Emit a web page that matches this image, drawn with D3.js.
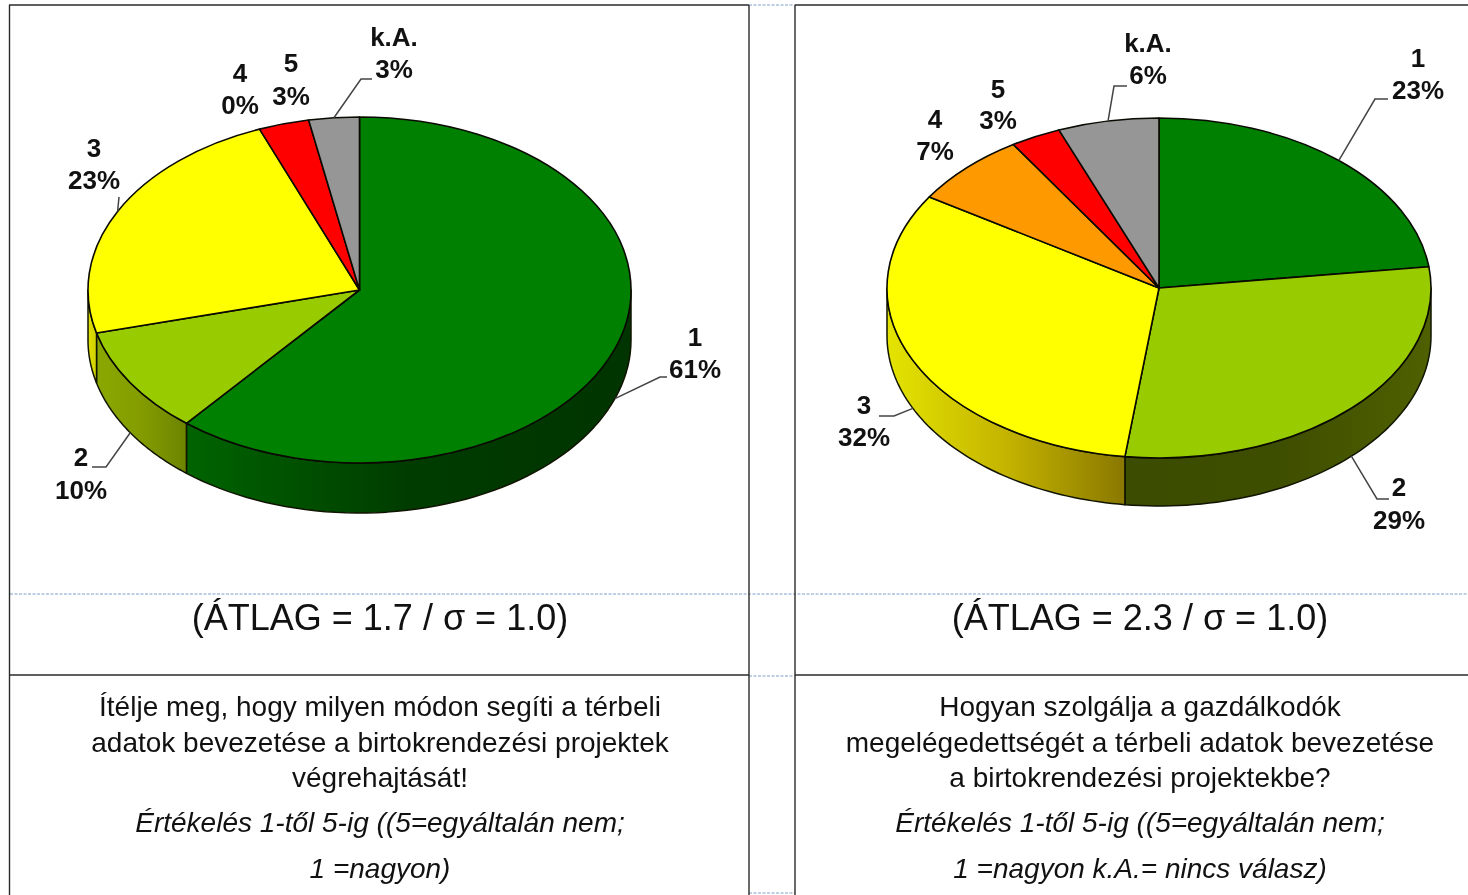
<!DOCTYPE html>
<html>
<head>
<meta charset="utf-8">
<script src="https://cdnjs.cloudflare.com/ajax/libs/d3/7.8.5/d3.min.js"></script>
<style>
html, body { margin: 0; padding: 0; background: #fff; overflow: hidden; }
svg { display: block; }
text { font-family: "Liberation Sans", Arial, sans-serif; fill: #111; }
.pct { font-size: 26px; font-weight: bold; text-anchor: middle; }
.cap { font-size: 36px; text-anchor: middle; }
.q { font-size: 28px; text-anchor: middle; }
.qi { font-size: 28px; font-style: italic; text-anchor: middle; }
</style>
</head>
<body>
<script>
var categories = ["1", "2", "3", "4", "5", "k.A."];
var valuesLeft = [61, 10, 23, 0, 3, 3];
var valuesRight = [23, 29, 32, 7, 3, 6];
var colors = ["#008000", "#99cc00", "#ffff00", "#ff9900", "#ff0000", "#969696"];

var captionLeft = "(ÁTLAG = 1.7 / σ = 1.0)";
var captionRight = "(ÁTLAG = 2.3 / σ = 1.0)";
var questionLeft = ["Ítélje meg, hogy milyen módon segíti a térbeli", "adatok bevezetése a birtokrendezési projektek", "végrehajtását!"];
var questionRight = ["Hogyan szolgálja a gazdálkodók", "megelégedettségét a térbeli adatok bevezetése", "a birtokrendezési projektekbe?"];
var noteLeft = ["Értékelés 1-től 5-ig ((5=egyáltalán nem;", "1 =nagyon)"];
var noteRight = ["Értékelés 1-től 5-ig ((5=egyáltalán nem;", "1 =nagyon k.A.= nincs válasz)"];

// side wall shading, left to right
var wallsLeft = {"1": ["#006400", "#003c00", "#003400"], "2": ["#8aa800", "#849c00", "#6c8400"], "3": ["#e0e000", "#d0d000"]};
var wallsRight = {"2": ["#3c4c00", "#3e4e00", "#4e6000"], "3": ["#e4e400", "#c4b400", "#8a7800"]};

// label centres and leader elbows
var layoutLeft = {
	"1": {x: 695, name: 337, pct: 369, leader: [[660, 377], [667, 377]], wall: true},
	"2": {x: 81, name: 457, pct: 490, leader: [[106, 467], [92, 467]], wall: true},
	"3": {x: 94, name: 148, pct: 180, leader: [[119, 197]]},
	"4": {x: 240, name: 73, pct: 105},
	"5": {x: 291, name: 63, pct: 96},
	"k.A.": {x: 394, name: 37, pct: 69, leader: [[361, 79], [372, 79]]}
};
var layoutRight = {
	"1": {x: 1418, name: 58, pct: 90, leader: [[1375, 99], [1388, 99]]},
	"2": {x: 1399, name: 487, pct: 520, leader: [[1377, 499], [1389, 499]], wall: true},
	"3": {x: 864, name: 405, pct: 437, leader: [[894, 416], [879, 416]], wall: true},
	"4": {x: 935, name: 119, pct: 151},
	"5": {x: 998, name: 89, pct: 120},
	"k.A.": {x: 1148, name: 43, pct: 75, leader: [[1114, 86], [1127, 86]]}
};

var width = 1468, height = 895;

var svg = d3.select("body").append("svg")
	.attr("width", width)
	.attr("height", height)
	.style("filter", "blur(0.45px)");

var defs = svg.append("defs");

// table lines and the dashed page guides behind them
var guides = [[10, 1468, 594], [749, 795, 676], [749, 795, 5], [749, 795, 893]];
svg.selectAll(".guide").data(guides).enter().append("line")
	.attr("class", "guide")
	.attr("x1", function(d){return d[0]})
	.attr("x2", function(d){return d[1]})
	.attr("y1", function(d){return d[2]})
	.attr("y2", function(d){return d[2]})
	.attr("stroke", "#7f9fca")
	.attr("stroke-dasharray", "3,1.5");

var rules = [[9.5, 5, 9.5, 895], [749, 5, 749, 895], [795, 5, 795, 895], [9, 5, 749, 5], [795, 5, 1468, 5], [9, 675, 749, 675], [795, 675, 1468, 675]];
svg.selectAll(".rule").data(rules).enter().append("line")
	.attr("class", "rule")
	.attr("x1", function(d){return d[0]})
	.attr("y1", function(d){return d[1]})
	.attr("x2", function(d){return d[2]})
	.attr("y2", function(d){return d[3]})
	.attr("stroke", "#2a2a2a")
	.attr("stroke-width", 1.4);

function drawPie(id, values, walls, layout, cx, cy, rx, ry, depth){
	var slices = d3.pie().sort(null).value(function(d){return d.value})(
		categories.map(function(c, i){return {name: c, value: values[i], color: colors[i]}})
	);

	var px = function(a){return cx + rx * Math.sin(a)};
	var py = function(a){return cy - ry * Math.cos(a)};
	var line = d3.line();

	var g = svg.append("g").attr("class", "pie-" + id);

	// walls, only the part of each slice facing the viewer
	slices.forEach(function(s, i){
		var a0 = Math.max(s.startAngle, Math.PI / 2), a1 = Math.min(s.endAngle, Math.PI * 3 / 2);
		if (a1 <= a0 || !walls[s.data.name]) return;

		var angles = d3.range(0, 61).map(function(k){return a0 + (a1 - a0) * k / 60});
		var top = angles.map(function(a){return [px(a), py(a)]});
		var bottom = angles.slice().reverse().map(function(a){return [px(a), py(a) + depth]});

		var xs = top.map(function(p){return p[0]});
		var gradId = "wall-" + id + "-" + i;
		var grad = defs.append("linearGradient")
			.attr("id", gradId)
			.attr("gradientUnits", "userSpaceOnUse")
			.attr("x1", d3.min(xs)).attr("x2", d3.max(xs))
			.attr("y1", 0).attr("y2", 0);
		var stops = walls[s.data.name];
		stops.forEach(function(c, k){
			grad.append("stop").attr("offset", k / (stops.length - 1)).attr("stop-color", c);
		});

		g.append("path")
			.attr("d", line(top.concat(bottom)) + "Z")
			.attr("fill", "url(#" + gradId + ")")
			.attr("stroke", "#101400")
			.attr("stroke-width", 1.5)
			.attr("stroke-linejoin", "round");
	});

	// top face
	var arc = d3.arc().innerRadius(0).outerRadius(rx);
	g.append("g")
		.attr("transform", "translate(" + cx + "," + cy + ") scale(1," + (ry / rx) + ")")
		.selectAll("path")
		.data(slices.filter(function(s){return s.data.value > 0})).enter()
		.append("path")
		.attr("d", arc)
		.attr("fill", function(d){return d.data.color})
		.attr("stroke", "#0a0a00")
		.attr("stroke-width", 1.6)
		.attr("stroke-linejoin", "round")
		.attr("vector-effect", "non-scaling-stroke");

	// leaders start at the middle of the slice rim
	slices.forEach(function(s){
		var l = layout[s.data.name];
		if (l.leader){
			var mid = (s.startAngle + s.endAngle) / 2;
			var start = [px(mid), py(mid) + (l.wall ? depth : 0)];
			g.append("path")
				.attr("d", line([start].concat(l.leader)))
				.attr("fill", "none")
				.attr("stroke", "#444")
				.attr("stroke-width", 1.5);
		}
		g.append("text").attr("class", "pct").attr("x", l.x).attr("y", l.name + 9).text(s.data.name);
		g.append("text").attr("class", "pct").attr("x", l.x).attr("y", l.pct + 9).text(s.data.value + "%");
	});
}

drawPie("left", valuesLeft, wallsLeft, layoutLeft, 359.5, 290, 271.5, 173, 50);
drawPie("right", valuesRight, wallsRight, layoutRight, 1159, 288, 272, 170, 48);

function drawText(x, caption, question, note){
	svg.append("text").attr("class", "cap").attr("x", x).attr("y", 630).text(caption);
	var qy = [716, 752, 787], ny = [832, 878];
	question.forEach(function(t, i){
		svg.append("text").attr("class", "q").attr("x", x).attr("y", qy[i]).text(t);
	});
	note.forEach(function(t, i){
		svg.append("text").attr("class", "qi").attr("x", x).attr("y", ny[i]).text(t);
	});
}

drawText(380, captionLeft, questionLeft, noteLeft);
drawText(1140, captionRight, questionRight, noteRight);
</script>
</body>
</html>
